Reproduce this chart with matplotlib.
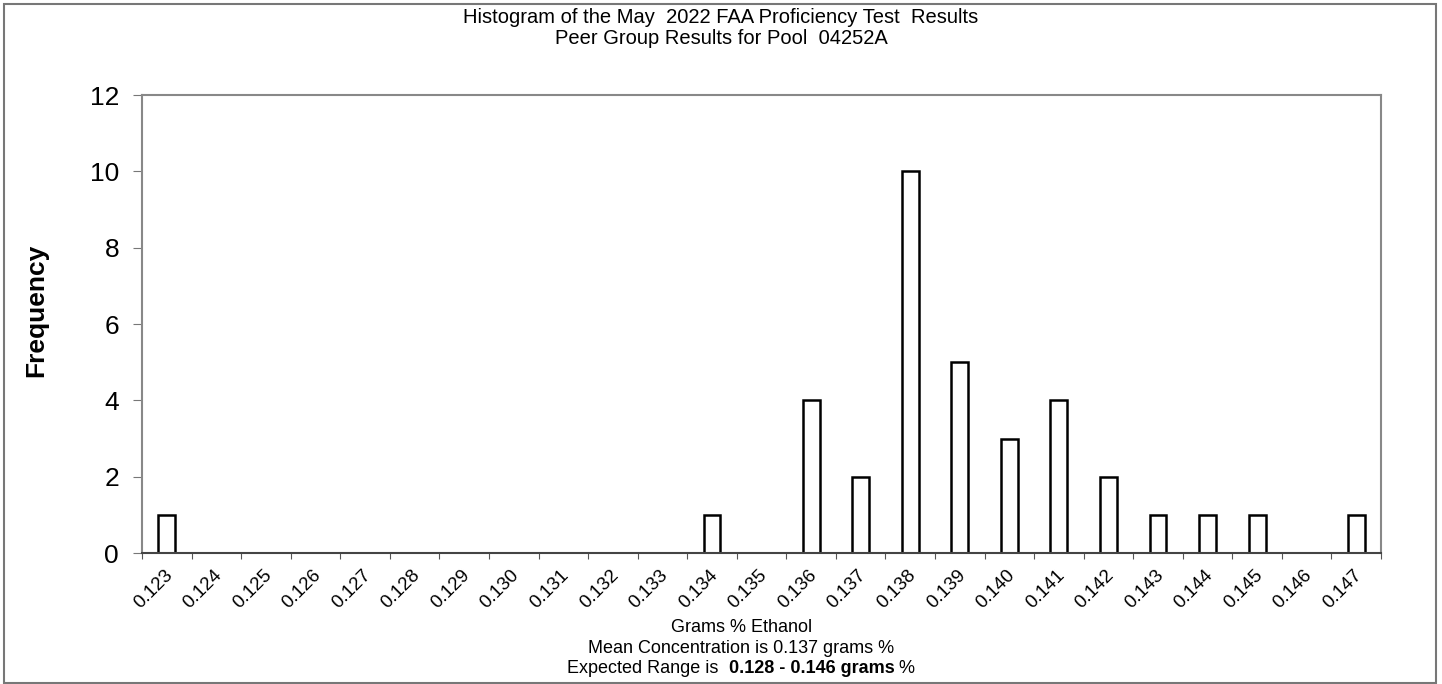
import numpy as np
import matplotlib
matplotlib.use('Agg')
import matplotlib.pyplot as plt
from matplotlib.patches import Rectangle

plt.rcParams['font.family'] = ['Liberation Sans', 'DejaVu Sans']

# Data
bins = ['0.123', '0.124', '0.125', '0.126', '0.127', '0.128', '0.129', '0.130',
        '0.131', '0.132', '0.133', '0.134', '0.135', '0.136', '0.137', '0.138',
        '0.139', '0.140', '0.141', '0.142', '0.143', '0.144', '0.145', '0.146',
        '0.147']
counts = [1, 0, 0, 0, 0, 0, 0, 0, 0, 0, 0, 1, 0, 4, 2, 10, 5, 3, 4, 2, 1, 1, 1, 0, 1]
yticks = [0, 2, 4, 6, 8, 10, 12]

fig = plt.figure(figsize=(14.42, 6.84), dpi=100)
ax = fig.add_axes([0.0985, 0.1915, 0.8592, 0.6695])

x = np.arange(len(bins))
ax.bar(x, counts, width=0.34, facecolor='white', edgecolor='black', linewidth=1.8)

ax.set_xlim(-0.5, len(bins) - 0.5)
ax.set_ylim(0, 12)
ax.set_yticks(yticks)
ax.set_yticklabels([str(v) for v in yticks], fontsize=19)
ax.set_xticks(np.arange(len(bins) + 1) - 0.5)
ax.set_xticklabels([])
ax.set_xticks(x - 0.06, minor=True)
ax.set_xticklabels(bins, minor=True, rotation=45, ha='right', va='top',
                   rotation_mode='anchor', fontsize=13.5)
ax.tick_params(axis='x', which='minor', length=0, pad=10)
ax.tick_params(axis='x', which='major', direction='out', length=4.3, color='#555555')
ax.tick_params(axis='y', direction='out', length=6.5, color='#777777', pad=10)

for s in ['top', 'right', 'left']:
    ax.spines[s].set_color('#888888')
    ax.spines[s].set_linewidth(1.5)
ax.spines['bottom'].set_color('#444444')
ax.spines['bottom'].set_linewidth(1.5)

ax.set_ylabel('Frequency', fontsize=19, fontweight='bold')
ax.yaxis.set_label_coords(-0.076, 0.53)

fig.text(0.5, 0.975, 'Histogram of the May  2022 FAA Proficiency Test  Results',
         ha='center', va='center', fontsize=14.5)
fig.text(0.5, 0.944, 'Peer Group Results for Pool  04252A',
         ha='center', va='center', fontsize=14.5)

xc = 0.514
fig.text(xc, 0.083, 'Grams % Ethanol', ha='center', va='center', fontsize=13)
fig.text(xc, 0.052, 'Mean Concentration is 0.137 grams %', ha='center',
         va='center', fontsize=13)

# mixed-weight last line, laid out piece by piece and centred
parts = [('Expected Range is  ', 'normal'), ('0.128 - 0.146 grams', 'bold'), (' %', 'normal')]
renderer = fig.canvas.get_renderer()
texts = []
for s, w in parts:
    texts.append(fig.text(0, 0.023, s, ha='left', va='center', fontsize=13, fontweight=w))
widths = [t.get_window_extent(renderer).width / fig.bbox.width for t in texts]
x0 = xc - sum(widths) / 2
for t, w in zip(texts, widths):
    t.set_x(x0)
    x0 += w

# outer border
fig.patches.append(Rectangle((0.003, 0.002), 0.993, 0.992, transform=fig.transFigure,
                             fill=False, edgecolor='#777777', linewidth=1.5))

fig.savefig('out.png', dpi=100)
